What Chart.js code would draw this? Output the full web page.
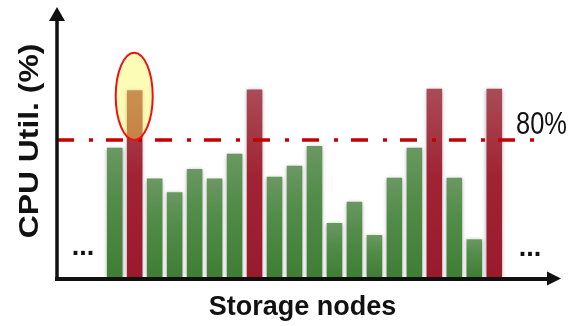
<!DOCTYPE html>
<html>
<head>
<meta charset="utf-8">
<script src="https://cdn.jsdelivr.net/npm/chart.js@4/dist/chart.umd.min.js"></script>
<style>
  html, body { margin: 0; padding: 0; background: #ffffff; }
  #wrap { width: 572px; height: 326px; position: relative; }
</style>
</head>
<body>
<div id="wrap"><canvas id="cpu" width="572" height="326"></canvas></div>
<script>
// Storage node index (position along the horizontal axis)
const nodes = [1, 2, 3, 4, 5, 6, 7, 8, 9, 10, 11, 12, 13, 14, 15, 16, 17, 18, 19, 20];
// CPU utilization per storage node, in percent
const cpuUtil = [75.5, 109, 57.5, 49.5, 63, 57.5, 72, 109.5, 58.5, 65, 76.5, 31.5, 44, 24.5, 58, 75.5, 110, 58, 22, 110];
// Overload threshold, in percent
const thresholdPct = [80];
// Highlighted node (first overloaded one) and the band the highlight covers, in percent
const highlightNode = [2];
const highlightBand = [80, 131];

const yLabel = 'CPU Util. (%)';
const xLabel = 'Storage nodes';
const thresholdLabel = thresholdPct[0] + '%';

function barFill(ctx) {
  const chart = ctx.chart;
  const y = chart.scales.y;
  const v = ctx.raw && typeof ctx.raw === 'object' ? ctx.raw.y : ctx.raw;
  const over = v > thresholdPct[0];
  if (!y || !chart.chartArea) return over ? '#a02434' : '#4b8641';
  const top = y.getPixelForValue(v);
  const bottom = y.getPixelForValue(0);
  const g = chart.ctx.createLinearGradient(0, top, 0, bottom);
  if (over) {
    g.addColorStop(0, '#aa4c56');
    g.addColorStop(0.45, '#a12434');
    g.addColorStop(1, '#991a2d');
  } else {
    g.addColorStop(0, '#6a9862');
    g.addColorStop(0.4, '#528c49');
    g.addColorStop(1, '#3f7e35');
  }
  return g;
}

// Soft shadow behind the bars
const barShadow = {
  id: 'barShadow',
  beforeDatasetsDraw(chart) {
    const c = chart.ctx;
    c.save();
    c.shadowColor = 'rgba(0,0,0,0.35)';
    c.shadowBlur = 4;
    c.shadowOffsetX = 0;
    c.shadowOffsetY = 1;
  },
  afterDatasetsDraw(chart) {
    chart.ctx.restore();
  }
};

// Axes with arrow heads, threshold line, highlight ellipse and text
const decorations = {
  id: 'decorations',
  afterDatasetsDraw(chart) {
    const c = chart.ctx;
    const a = chart.chartArea;
    const xs = chart.scales.x;
    const ys = chart.scales.y;

    // threshold line (dash-dot)
    const ty = ys.getPixelForValue(thresholdPct[0]);
    c.save();
    c.strokeStyle = '#c40000';
    c.lineWidth = 3.5;
    c.setLineDash([17, 15, 4, 13]);
    c.beginPath();
    c.moveTo(a.left, ty);
    c.lineTo(a.right - 22, ty);
    c.stroke();
    c.restore();

    // highlight ellipse round the first overloaded node
    const hx = xs.getPixelForValue(highlightNode[0]);
    const y0 = ys.getPixelForValue(highlightBand[0]);
    const y1 = ys.getPixelForValue(highlightBand[1]);
    c.save();
    c.beginPath();
    c.ellipse(hx - 0.5, (y0 + y1) / 2, 18.5, (y0 - y1) / 2, 0, 0, Math.PI * 2);
    c.fillStyle = 'rgba(250,247,72,0.4)';
    c.fill();
    c.strokeStyle = '#ee1111';
    c.lineWidth = 2;
    c.stroke();
    c.restore();

    // axes
    c.save();
    c.strokeStyle = '#111111';
    c.fillStyle = '#111111';
    c.lineWidth = 3.5;
    c.lineCap = 'butt';
    c.beginPath();
    c.moveTo(a.left, a.bottom + 4);
    c.lineTo(a.left, a.top + 14);
    c.stroke();
    c.lineWidth = 4;
    c.beginPath();
    c.moveTo(a.left - 2, a.bottom + 2);
    c.lineTo(a.right - 12, a.bottom + 2);
    c.stroke();
    // arrow heads
    c.beginPath();
    c.moveTo(a.left, a.top + 4);
    c.lineTo(a.left - 8, a.top + 18);
    c.lineTo(a.left + 8, a.top + 18);
    c.closePath();
    c.fill();
    c.beginPath();
    c.moveTo(a.right + 1, a.bottom + 1.5);
    c.lineTo(a.right - 13, a.bottom - 5.5);
    c.lineTo(a.right - 13, a.bottom + 8.5);
    c.closePath();
    c.fill();

    // ellipsis marks on both sides
    c.font = 'bold 27px "Liberation Sans", Arial, sans-serif';
    c.textAlign = 'center';
    c.textBaseline = 'alphabetic';
    c.fillText('...', a.left + 26, a.bottom - 22);
    c.fillText('...', a.right - 30, a.bottom - 21);

    // threshold label, set in a condensed face
    c.save();
    c.font = '31px "Liberation Sans", Arial, sans-serif';
    c.textAlign = 'left';
    c.translate(a.right - 44, ty - 6);
    c.scale(0.82, 1);
    c.fillText(thresholdLabel, 0, 0);
    c.restore();

    // axis titles
    c.font = 'bold 27px "Liberation Sans", Arial, sans-serif';
    c.textAlign = 'center';
    c.fillText(xLabel, 302.5, a.bottom + 38);
    c.translate(a.left - 19, 141);
    c.rotate(-Math.PI / 2);
    c.scale(1.18, 1);
    c.textBaseline = 'alphabetic';
    c.fillText(yLabel, 0, 0);
    c.restore();
  }
};

new Chart(document.getElementById('cpu'), {
  type: 'bar',
  data: {
    datasets: [{
      data: nodes.map((n, i) => ({ x: n, y: cpuUtil[i] })),
      backgroundColor: barFill,
      borderWidth: 0,
      categoryPercentage: 1,
      barPercentage: 0.78
    }]
  },
  options: {
    responsive: false,
    animation: false,
    layout: { padding: { left: 57, right: 12, top: 3, bottom: 49 } },
    plugins: { legend: { display: false }, tooltip: { enabled: false } },
    scales: {
      x: { type: 'linear', display: false, offset: false, min: -1.89, max: 23.29 },
      y: { display: false, min: 0, max: 160 }
    }
  },
  plugins: [barShadow, decorations]
});
</script>
</body>
</html>
